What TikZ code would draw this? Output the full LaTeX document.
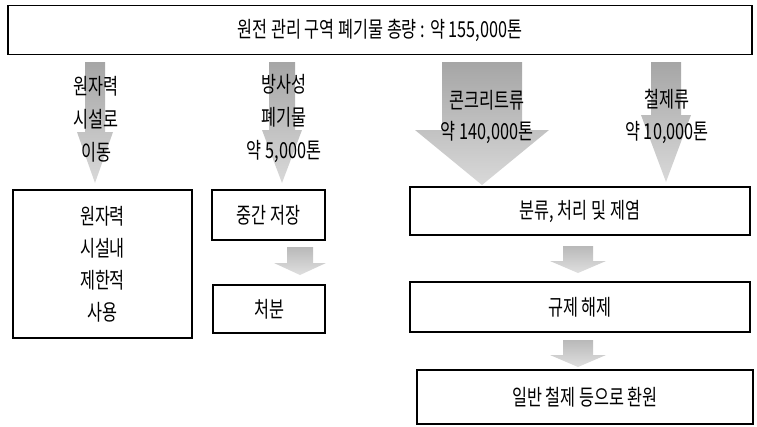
\documentclass[tikz,border=0pt]{standalone}
\usepackage{fontspec}
\setmainfont{Noto Sans CJK KR}[FakeStretch=0.74]
\tikzset{
  boxnode/.style={draw=black, line width=1.1pt, fill=white, inner sep=0pt, align=center},
  lbl/.style={inner sep=0pt, align=center, font=\fontsize{22}{33}\selectfont},
  txt/.style={font=\fontsize{22}{24}\selectfont},
  bigfill/.style={top color=gray!70, bottom color=gray!30, draw=none},
  smallfill/.style={top color=gray!55, bottom color=gray!25, draw=none}
}
\newcommand\blkarrow[7]{%
  \shade[#7] (#1-#3,#2) -- (#1+#3,#2) -- (#1+#3,#4) -- (#1+#5,#4) -- (#1,#6)
    -- (#1-#5,#4) -- (#1-#3,#4) -- cycle;}
\begin{document}
\begin{tikzpicture}[x=1pt,y=-1pt]
\useasboundingbox (0,0) rectangle (757,426);
% title
\node[boxnode, txt, minimum width=744pt, minimum height=49pt] (title) at (380,30) {원전 관리 구역 폐기물 총량 : 약 155,000톤};
% big arrows
\blkarrow{95}{62}{10}{132}{18}{183}{bigfill}
\blkarrow{282}{62}{13}{130}{20}{183}{bigfill}
\blkarrow{482}{62}{40}{130}{67}{185}{bigfill}
\blkarrow{666}{62}{15}{115}{25}{182}{bigfill}
% arrow labels
\node[lbl] (l1) at (96,119) {원자력\\시설로\\이동};
\node[lbl] (l2) at (284,118) {방사성\\폐기물\\약 5,000톤};
\node[lbl, font=\fontsize{22}{31}\selectfont] (l3) at (487,117) {콘크리트류\\약 140,000톤};
\node[lbl, font=\fontsize{22}{32}\selectfont] (l4) at (667,116) {철제류\\약 10,000톤};
% boxes
\node[boxnode, minimum width=179pt, minimum height=148pt, font=\fontsize{22}{32}\selectfont] (use) at (102.5,264) {원자력\\시설내\\제한적\\사용};
\node[boxnode, txt, minimum width=113pt, minimum height=50pt] (store) at (268.5,215) {중간 저장};
\node[boxnode, txt, minimum width=112pt, minimum height=48pt] (disp) at (269,309) {처분};
\node[boxnode, txt, minimum width=340pt, minimum height=48pt] (sort) at (580,211) {분류, 처리 및 제염};
\node[boxnode, txt, minimum width=340pt, minimum height=50pt] (clear) at (580,307) {규제 해제};
\node[boxnode, txt, minimum width=336pt, minimum height=54pt] (recyc) at (585,397) {일반 철제 등으로 환원};
% small arrows
\blkarrow{300}{247}{13}{263}{26}{275}{smallfill}
\blkarrow{578}{246}{15}{261}{28}{273}{smallfill}
\blkarrow{578}{340}{15}{355}{28}{367}{smallfill}
\end{tikzpicture}
\end{document}
